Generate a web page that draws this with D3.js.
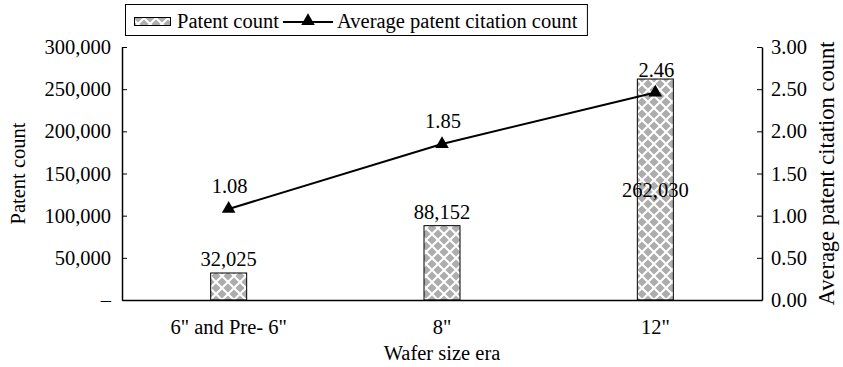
<!DOCTYPE html>
<html>
<head>
<meta charset="utf-8">
<script src="https://cdn.jsdelivr.net/npm/d3@7"></script>
<style>
  html, body { margin: 0; padding: 0; background: #fff; }
</style>
</head>
<body>
<svg id="chart" width="843" height="367" font-family="Liberation Serif"></svg>
<script>
// Wafer size eras and the two measured series
const categories = ['6" and Pre- 6"', '8"', '12"'];
const patentCounts = [32025, 88152, 262030];
const avgCitations = [1.08, 1.85, 2.46];
const leftTicks = [0, 50000, 100000, 150000, 200000, 250000, 300000];
const rightTicks = [0, 0.5, 1, 1.5, 2, 2.5, 3];

const FONT = "Liberation Serif";
const fontSize = 20.5;

const svg = d3.select("#chart");
const margin = { left: 122, right: 81, top: 47, bottom: 67 };
const W = 843, H = 367;
const x0 = margin.left, x1 = W - margin.right;
const y0 = H - margin.bottom, y1 = margin.top;

const x = d3.scaleBand().domain(categories).range([x0, x1]).paddingInner(0).paddingOuter(0);
const yL = d3.scaleLinear().domain([0, 300000]).range([y0, y1]);
const yR = d3.scaleLinear().domain([0, 3]).range([y0, y1]);
const cx = i => x(categories[i]) + x.bandwidth() / 2;

// Diamond lattice fill for the bars: grey diamonds in offset rows, white gaps
const defs = svg.append("defs");
const pat = defs.append("pattern")
  .attr("id", "diamonds").attr("patternUnits", "userSpaceOnUse")
  .attr("width", 12).attr("height", 12);
pat.append("rect").attr("width", 12).attr("height", 12).attr("fill", "#ffffff");
const r = 4.6;
const centres = [[0, 0], [12, 0], [6, 6], [0, 12], [12, 12]];
pat.append("path").attr("fill", "#adadad")
  .attr("d", centres.map(([px, py]) =>
    `M${px},${py - r}L${px + r},${py}L${px},${py + r}L${px - r},${py}Z`).join(""));

const barW = 36;

// Bars
svg.append("g").selectAll("rect").data(patentCounts).join("rect")
  .attr("x", (d, i) => cx(i) - barW / 2)
  .attr("y", d => yL(d))
  .attr("width", barW)
  .attr("height", d => y0 - yL(d))
  .attr("fill", "url(#diamonds)")
  .attr("stroke", "#000").attr("stroke-width", 1);

// Bar value labels: above short bars, centred inside the tallest
const fmt = d3.format(",");
svg.append("g").selectAll("text").data(patentCounts).join("text")
  .attr("x", (d, i) => cx(i))
  .attr("y", d => d > 200000 ? (yL(d) + y0) / 2 + 7 : yL(d) - 7)
  .attr("text-anchor", "middle").attr("font-size", fontSize)
  .text(d => fmt(d));

// Left axis
const axL = d3.axisLeft(yL).tickValues(leftTicks).tickSizeInner(-5).tickSizeOuter(0)
  .tickFormat(d => d === 0 ? "–" : fmt(d));
const gL = svg.append("g").attr("transform", `translate(${x0},0)`).call(axL);
gL.selectAll("text").attr("font-size", fontSize).attr("fill", "#000").attr("x", -11);
gL.selectAll("line").attr("stroke", "#000");
gL.select(".domain").attr("stroke", "#000").attr("stroke-width", 1.5);

// Right axis
const axR = d3.axisRight(yR).tickValues(rightTicks).tickSizeInner(-5).tickSizeOuter(0)
  .tickFormat(d3.format(".2f"));
const gR = svg.append("g").attr("transform", `translate(${x1},0)`).call(axR);
gR.selectAll("text").attr("font-size", fontSize).attr("fill", "#000").attr("x", 9);
gR.selectAll("line").attr("stroke", "#000");
gR.select(".domain").attr("stroke", "#000").attr("stroke-width", 1.5);

// Bottom axis
const axB = d3.axisBottom(x).tickSize(0);
const gB = svg.append("g").attr("transform", `translate(0,${y0})`).call(axB);
gB.selectAll("text").attr("font-size", fontSize).attr("fill", "#000").attr("dy", "1.5em");
gB.select(".domain").attr("stroke", "#000").attr("stroke-width", 1.5);

// Citation line with triangle markers
const line = d3.line().x((d, i) => cx(i)).y(d => yR(d));
svg.append("path").datum(avgCitations).attr("d", line)
  .attr("fill", "none").attr("stroke", "#000").attr("stroke-width", 2);
const tri = d3.symbol().type(d3.symbolTriangle).size(80);
svg.append("g").selectAll("path").data(avgCitations).join("path")
  .attr("transform", (d, i) => `translate(${cx(i)},${yR(d)})`)
  .attr("d", tri).attr("fill", "#000");
svg.append("g").selectAll("text").data(avgCitations).join("text")
  .attr("x", (d, i) => cx(i) + 1)
  .attr("y", d => yR(d) - 16)
  .attr("text-anchor", "middle").attr("font-size", fontSize)
  .text(d => d.toFixed(2));

// Axis titles
svg.append("text").attr("transform", `translate(25,${(y0 + y1) / 2}) rotate(-90)`)
  .attr("text-anchor", "middle").attr("font-size", fontSize).text("Patent count");
svg.append("text").attr("transform", `translate(834,${(y0 + y1) / 2}) rotate(-90)`)
  .attr("text-anchor", "middle").attr("font-size", 22.5).text("Average patent citation count");
svg.append("text").attr("x", (x0 + x1) / 2).attr("y", 360)
  .attr("text-anchor", "middle").attr("font-size", fontSize).text("Wafer size era");

// Legend
const lg = svg.append("g");
const box = lg.append("rect").attr("x", 125.5).attr("y", 4.5).attr("height", 31)
  .attr("fill", "#fff").attr("stroke", "#000").attr("stroke-width", 1);
lg.append("rect").attr("x", 134.5).attr("y", 17.5).attr("width", 36).attr("height", 8)
  .attr("fill", "url(#diamonds)").attr("stroke", "#000");
lg.append("text").attr("x", 177).attr("y", 28).attr("font-size", fontSize).text("Patent count");
lg.append("line").attr("x1", 283).attr("x2", 333).attr("y1", 22).attr("y2", 22)
  .attr("stroke", "#000").attr("stroke-width", 2);
lg.append("path").attr("transform", "translate(308,21)").attr("d", tri).attr("fill", "#000");
const last = lg.append("text").attr("x", 337).attr("y", 28).attr("font-size", fontSize)
  .attr("font-family", FONT).text("Average patent citation count");
box.attr("width", 337 + last.node().getComputedTextLength() + 10 - 125.5);

// Serif typeface for every label
svg.selectAll("g").attr("font-family", FONT);
svg.selectAll("text").attr("font-family", FONT);
</script>
</body>
</html>
